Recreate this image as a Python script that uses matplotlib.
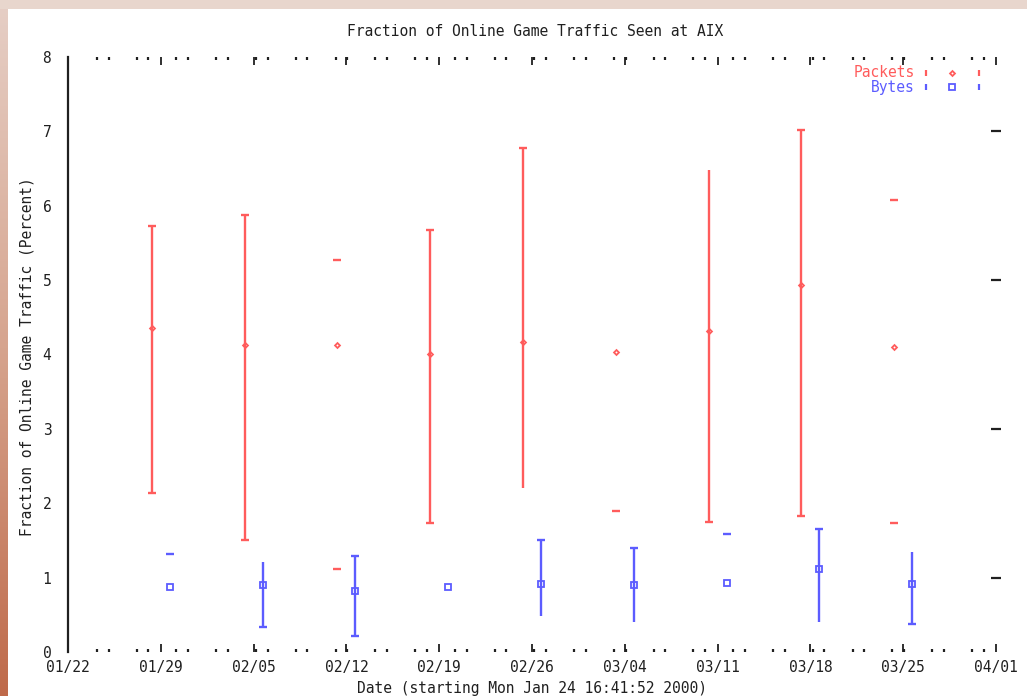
import numpy as np
import matplotlib
matplotlib.use("Agg")
import matplotlib.pyplot as plt
import matplotlib.dates as mdates
from matplotlib.ticker import FixedLocator, NullFormatter

# weekly samples, percent of all traffic
weeks = ["2000-01-29", "2000-02-05", "2000-02-12", "2000-02-19", "2000-02-26",
         "2000-03-04", "2000-03-11", "2000-03-18", "2000-03-25"]

pkt_mean = [4.35, 4.13, 4.13, 4.01, 4.17, 4.04, 4.31, 4.93, 4.10]
pkt_lo = [2.14, 1.51, 1.11, 1.73, 2.21, 1.89, 1.75, 1.83, 1.73]
pkt_hi = [5.73, 5.87, 5.27, 5.67, 6.78, np.nan, 6.48, 7.02, 6.08]
pkt_bar = [True, True, False, True, True, False, True, True, False]
pkt_lo_cap = [True, True, True, True, False, True, True, True, True]
pkt_hi_cap = [True, True, True, True, True, True, False, True, True]

byte_mean = [0.88, 0.90, 0.82, 0.87, 0.92, 0.90, 0.93, 1.12, 0.91]
byte_lo = [np.nan, 0.33, 0.22, np.nan, 0.49, 0.40, np.nan, 0.40, 0.38]
byte_hi = [1.32, 1.21, 1.29, np.nan, 1.51, 1.40, 1.59, 1.66, 1.35]
byte_bar = [False, True, True, False, True, True, False, True, True]
byte_lo_cap = [True, True, True, True, False, False, True, False, True]
byte_hi_cap = [True, False, True, True, True, True, True, True, False]

x_start, x_end = "2000-01-22", "2000-04-01"

RED = "#ff5c5c"
BLUE = "#5c5cff"
INK = "#202020"
FONT = "DejaVu Sans Mono"

plt.rcParams["font.family"] = FONT
plt.rcParams["font.size"] = 10.5

fig = plt.figure(figsize=(10.27, 6.96), dpi=100)
fig.patch.set_facecolor("white")

# page edges around the plot
grad = np.linspace(0, 1, 256).reshape(-1, 1)
strip = fig.add_axes([0, 0, 8 / 1027, 1])
strip.imshow(grad, aspect="auto", cmap=matplotlib.colors.LinearSegmentedColormap.from_list(
    "edge", ["#e6cfc6", "#d6a48e", "#bf6a4a"]))
strip.axis("off")
top = fig.add_axes([0, 1 - 9 / 696, 1, 9 / 696])
top.set_facecolor("#e8d6cd")
top.set_xticks([])
top.set_yticks([])
for s in top.spines.values():
    s.set_visible(False)

ax = fig.add_axes([68 / 1027, 1 - 652 / 696, 928 / 1027, 595 / 696])
ax.set_facecolor("none")

x0 = mdates.datestr2num(x_start)
x1 = mdates.datestr2num(x_end)
xc = mdates.datestr2num(weeks)
dodge = 0.68


def draw_series(x, mean, lo, hi, bar, lo_cap, hi_cap, color, marker, ms):
    mean = np.asarray(mean)
    lo = np.asarray(lo)
    hi = np.asarray(hi)
    bar = np.asarray(bar) & np.isfinite(lo) & np.isfinite(hi)
    ax.vlines(x[bar], lo[bar], hi[bar], color=color, lw=1.7)
    lc = np.asarray(lo_cap) & np.isfinite(lo)
    hc = np.asarray(hi_cap) & np.isfinite(hi)
    ax.plot(x[lc], lo[lc], ls="none", marker="_", ms=6, mew=1.7, color=color)
    ax.plot(x[hc], hi[hc], ls="none", marker="_", ms=6, mew=1.7, color=color)
    ax.plot(x, mean, ls="none", marker=marker, ms=ms, mfc="none", mec=color, mew=1.3)


draw_series(xc - dodge, pkt_mean, pkt_lo, pkt_hi, pkt_bar, pkt_lo_cap, pkt_hi_cap,
            RED, "D", 2.5)
draw_series(xc + dodge, byte_mean, byte_lo, byte_hi, byte_bar, byte_lo_cap, byte_hi_cap,
            BLUE, "s", 4.5)

ax.set_xlim(x0, x1)
ax.set_ylim(0, 8)

for side in ["top", "right", "bottom"]:
    ax.spines[side].set_visible(False)
ax.spines["left"].set_linewidth(1.6)
ax.spines["left"].set_color(INK)

# x axis: weekly labels, small ticks every few days
ax.xaxis.set_major_locator(FixedLocator(np.arange(x0, x1 + 1, 7)))
ax.xaxis.set_major_formatter(mdates.DateFormatter("%m/%d"))
ax.xaxis.set_minor_locator(FixedLocator(np.concatenate(
    [np.arange(x0 + 2.18, x1, 3), np.arange(x0 + 3.06, x1, 3)])))
ax.tick_params(axis="x", which="major", direction="in", length=6, width=1.3,
               top=True, bottom=True, color=INK, labelcolor=INK, pad=6)
ax.tick_params(axis="x", which="minor", direction="in", length=2.5, width=1.6,
               top=True, bottom=True, color=INK)

# y axis: labels on every integer, ticks on odd ones
ax.yaxis.set_major_locator(FixedLocator(np.arange(0, 9)))
ax.yaxis.set_minor_locator(FixedLocator([1, 3, 5, 7]))
ax.yaxis.set_minor_formatter(NullFormatter())
ax.tick_params(axis="y", which="major", length=0, pad=12, labelcolor=INK)
ax.tick_params(axis="y", which="minor", direction="in", length=7, width=1.4,
               left=True, right=False, color=INK)

rax = ax.twinx()
rax.set_ylim(0, 8)
for s in rax.spines.values():
    s.set_visible(False)
rax.yaxis.set_major_locator(FixedLocator([1, 3, 5, 7]))
rax.yaxis.set_major_formatter(NullFormatter())
rax.tick_params(axis="y", direction="inout", length=7, width=1.6, color=INK)

# key
for row, (name, color, marker, ms) in enumerate(
        [("Packets", RED, "D", 2.5), ("Bytes", BLUE, "s", 4.5)]):
    yk = 1 - (15.7 + 14.6 * row) / 595
    ax.text((915 - 68) / 928, yk, name, color=color, ha="right", va="center",
            transform=ax.transAxes)
    for xk in [(926 - 68) / 928, (979 - 68) / 928]:
        ax.plot(xk, yk, marker="|", ms=5, mew=1.6, color=color,
                transform=ax.transAxes, clip_on=False)
    ax.plot((952 - 68) / 928, yk, marker=marker, ms=ms, mfc="none", mec=color,
            mew=1.3, transform=ax.transAxes, clip_on=False)

fig.text(535 / 1027, 1 - 32 / 696, "Fraction of Online Game Traffic Seen at AIX",
         ha="center", va="center", color=INK)
fig.text(532 / 1027, 1 - 689 / 696, "Date (starting Mon Jan 24 16:41:52 2000)",
         ha="center", va="center", color=INK)
fig.text(27 / 1027, 1 - 357 / 696, "Fraction of Online Game Traffic (Percent)",
         ha="center", va="center", rotation=90, color=INK)

fig.savefig("out.png", dpi=100)
